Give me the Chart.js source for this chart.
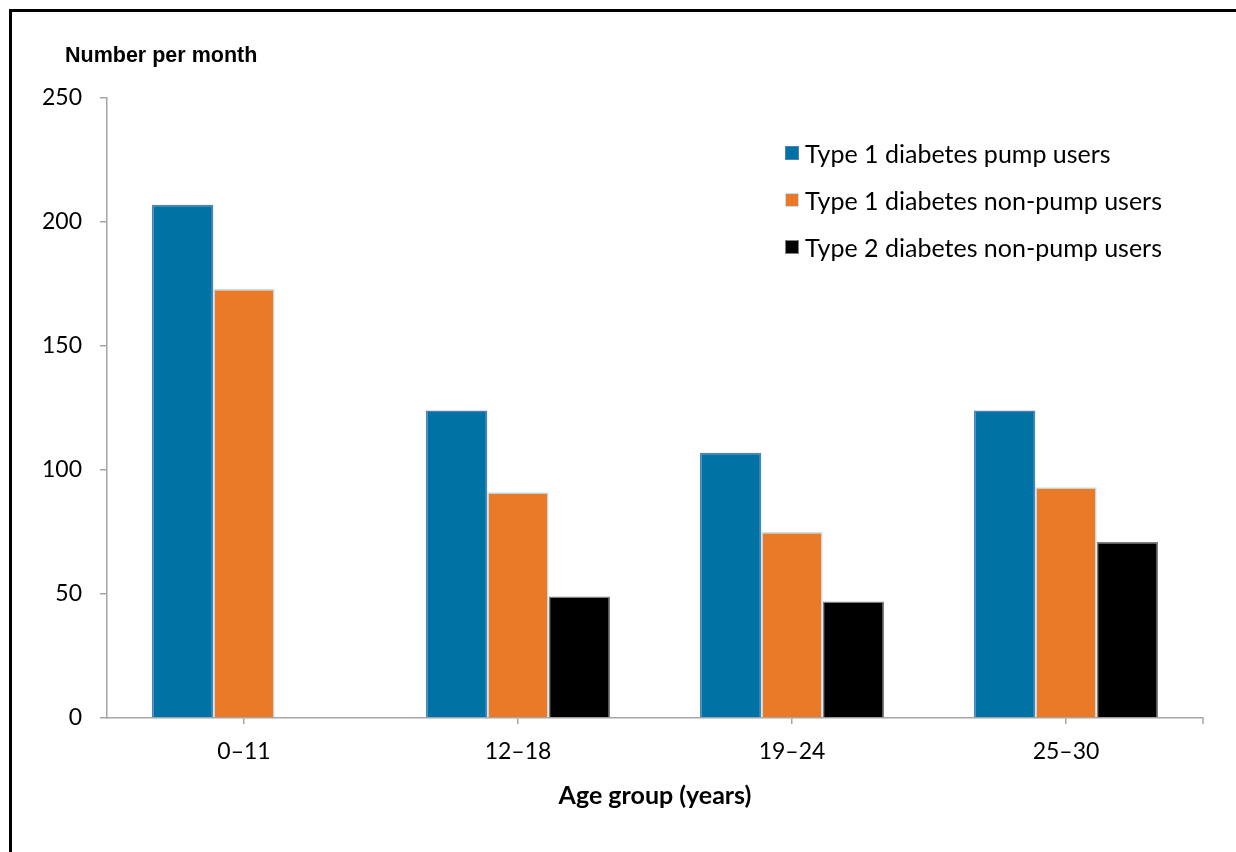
<!DOCTYPE html>
<html>
<head>
<meta charset="utf-8">
<script src="https://cdn.jsdelivr.net/npm/chart.js@4"></script>
<style>
    html, body { margin: 0; padding: 0; background: #fff; }
    body { width: 1236px; height: 852px; position: relative; overflow: hidden; }
    .frame {
        position: absolute; left: 9px; top: 9px; width: 1300px; height: 900px;
        border-top: 3px solid #000; border-left: 3px solid #000;
    }
    #chart { position: absolute; left: 0; top: 0; }
    .y-title {
        position: absolute; left: 65px; top: 43px;
        font: bold 21.5px "Liberation Sans", Arial, sans-serif; color: #000;
    }
    .legend { position: absolute; left: 785px; top: 129px; font-family: Lato, sans-serif; }
    .legend-item { display: flex; align-items: center; height: 47px; font-size: 25px; color: #000; }
    .legend-box { width: 14px; height: 14px; margin-right: 6px; box-sizing: border-box; border: 1.5px solid; }
</style>
</head>
<body>
<div class="frame"></div>
<canvas id="chart" width="1236" height="852"></canvas>
<div class="y-title">Number per month</div>
<div class="legend" id="legend"></div>

<script>
const ageGroups = ['0–11', '12–18', '19–24', '25–30'];
const pumpType1 = [207, 124, 107, 124];
const nonPumpType1 = [173, 91, 75, 93];
const nonPumpType2 = [null, 49, 47, 71];
const yTicks = [0, 50, 100, 150, 200, 250];

const datasets = [
    { label: 'Type 1 diabetes pump users', data: pumpType1, backgroundColor: '#0072a4', borderColor: '#4f81bd' },
    { label: 'Type 1 diabetes non-pump users', data: nonPumpType1, backgroundColor: '#ea7a27', borderColor: '#bfe5f5' },
    { label: 'Type 2 diabetes non-pump users', data: nonPumpType2, backgroundColor: '#000000', borderColor: '#7f7f7f' }
].map(d => Object.assign(d, {
    borderWidth: 1.5,
    categoryPercentage: 0.672,
    barPercentage: 1
}));

// Legend stacked in the upper right of the plot
const legend = document.getElementById('legend');
datasets.forEach(d => {
    const item = document.createElement('div');
    item.className = 'legend-item';
    item.innerHTML = `<span class="legend-box" style="background:${d.backgroundColor};border-color:${d.borderColor}"></span>${d.label}`;
    legend.appendChild(item);
});

const axisColor = '#a6a6a6';
const tickFont = { family: 'Lato', size: 23 };

// Closing tick at the right end of the category axis
const endTick = {
    id: 'endTick',
    afterDraw(chart) {
        const x = chart.scales.x;
        const ctx = chart.ctx;
        ctx.save();
        ctx.strokeStyle = axisColor;
        ctx.lineWidth = 1.5;
        ctx.beginPath();
        ctx.moveTo(x.right, x.top);
        ctx.lineTo(x.right, x.top + 6);
        ctx.stroke();
        ctx.restore();
    }
};

new Chart(document.getElementById('chart'), {
    type: 'bar',
    data: { labels: ageGroups, datasets: datasets },
    plugins: [endTick],
    options: {
        responsive: false,
        animation: false,
        layout: { padding: { left: 20, top: 98, right: 33, bottom: 0 } },
        plugins: {
            legend: { display: false },
            tooltip: { enabled: false }
        },
        scales: {
            x: {
                grid: { drawOnChartArea: false, offset: false, color: axisColor, lineWidth: 1.5, tickLength: 6 },
                border: { color: axisColor, width: 1.5 },
                ticks: { color: '#000', font: tickFont, padding: 14 },
                title: {
                    display: true,
                    text: 'Age group (years)',
                    color: '#000',
                    font: { family: 'Lato', size: 25, weight: 'bold' },
                    padding: { top: 0, bottom: 41 }
                },
                afterFit: (scale) => { scale.height = 134; }
            },
            y: {
                min: 0,
                max: 250,
                afterBuildTicks: (scale) => { scale.ticks = yTicks.map(v => ({ value: v })); },
                grid: { drawOnChartArea: false, color: axisColor, lineWidth: 1.5, tickLength: 7 },
                border: { color: axisColor, width: 1.5 },
                ticks: { color: '#000', font: tickFont, padding: 18 },
                afterFit: (scale) => { scale.width = 87; }
            }
        }
    }
});
</script>
</body>
</html>
